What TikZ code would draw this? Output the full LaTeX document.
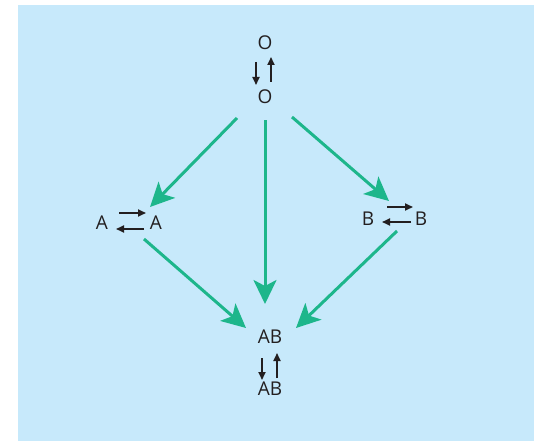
\documentclass[tikz,border=0pt]{standalone}
\usepackage{fontspec}
\setmainfont{Open Sans}
\usetikzlibrary{arrows.meta}
\definecolor{bgblue}{HTML}{C7E9FB}
\definecolor{rxgreen}{HTML}{1DB68B}
\definecolor{ink}{HTML}{231F20}
\begin{document}
\begin{tikzpicture}[x=1pt,y=-1pt,
  lbl/.style={inner sep=0pt,text=ink,font=\fontsize{19}{19}\selectfont},
  path/.style={draw=rxgreen,line width=3pt,-{Stealth[length=24pt,width=23pt,inset=6pt]}},
  eq/.style={draw=ink,line width=1.7pt,-{Triangle[length=8pt,width=7pt]}}]
\useasboundingbox (0,0) rectangle (534,441);
\fill[bgblue] (18,5) rectangle (534,441);
% species
\node[lbl] (O1) at (265,43) {O};
\node[lbl] (O2) at (265,97) {O};
\node[lbl] (A1) at (102,223) {A};
\node[lbl] (A2) at (156,223) {A};
\node[lbl] (B1) at (368,219) {B};
\node[lbl] (B2) at (421,219) {B};
\node[lbl] (AB1) at (270,337) {AB};
\node[lbl] (AB2) at (270,389) {AB};
% equilibrium arrows
\coordinate (od1) at (256,62); \coordinate (od2) at (256,85);
\coordinate (ou1) at (271,82); \coordinate (ou2) at (271,57);
\draw[eq] (od1) -- (od2);
\draw[eq] (ou1) -- (ou2);
\coordinate (ar1) at (119,213); \coordinate (ar2) at (146,213);
\coordinate (al1) at (144,229); \coordinate (al2) at (116,229);
\draw[eq] (ar1) -- (ar2);
\draw[eq] (al1) -- (al2);
\coordinate (br1) at (387,207); \coordinate (br2) at (413,207);
\coordinate (bl1) at (411,222); \coordinate (bl2) at (382,222);
\draw[eq] (br1) -- (br2);
\draw[eq] (bl1) -- (bl2);
\coordinate (abd1) at (262,358); \coordinate (abd2) at (262,380);
\coordinate (abu1) at (277,378); \coordinate (abu2) at (277,353);
\draw[eq] (abd1) -- (abd2);
\draw[eq] (abu1) -- (abu2);
% pathways
\coordinate (s1) at (237,118); \coordinate (t1) at (150,207);
\coordinate (s2) at (265,120); \coordinate (t2) at (265,304);
\coordinate (s3) at (292,117); \coordinate (t3) at (389,201);
\coordinate (s4) at (144,239); \coordinate (t4) at (246,328);
\coordinate (s5) at (397,231); \coordinate (t5) at (296,328);
\draw[path] (s1) -- (t1);
\draw[path] (s2) -- (t2);
\draw[path] (s3) -- (t3);
\draw[path] (s4) -- (t4);
\draw[path] (s5) -- (t5);
\end{tikzpicture}
\end{document}
